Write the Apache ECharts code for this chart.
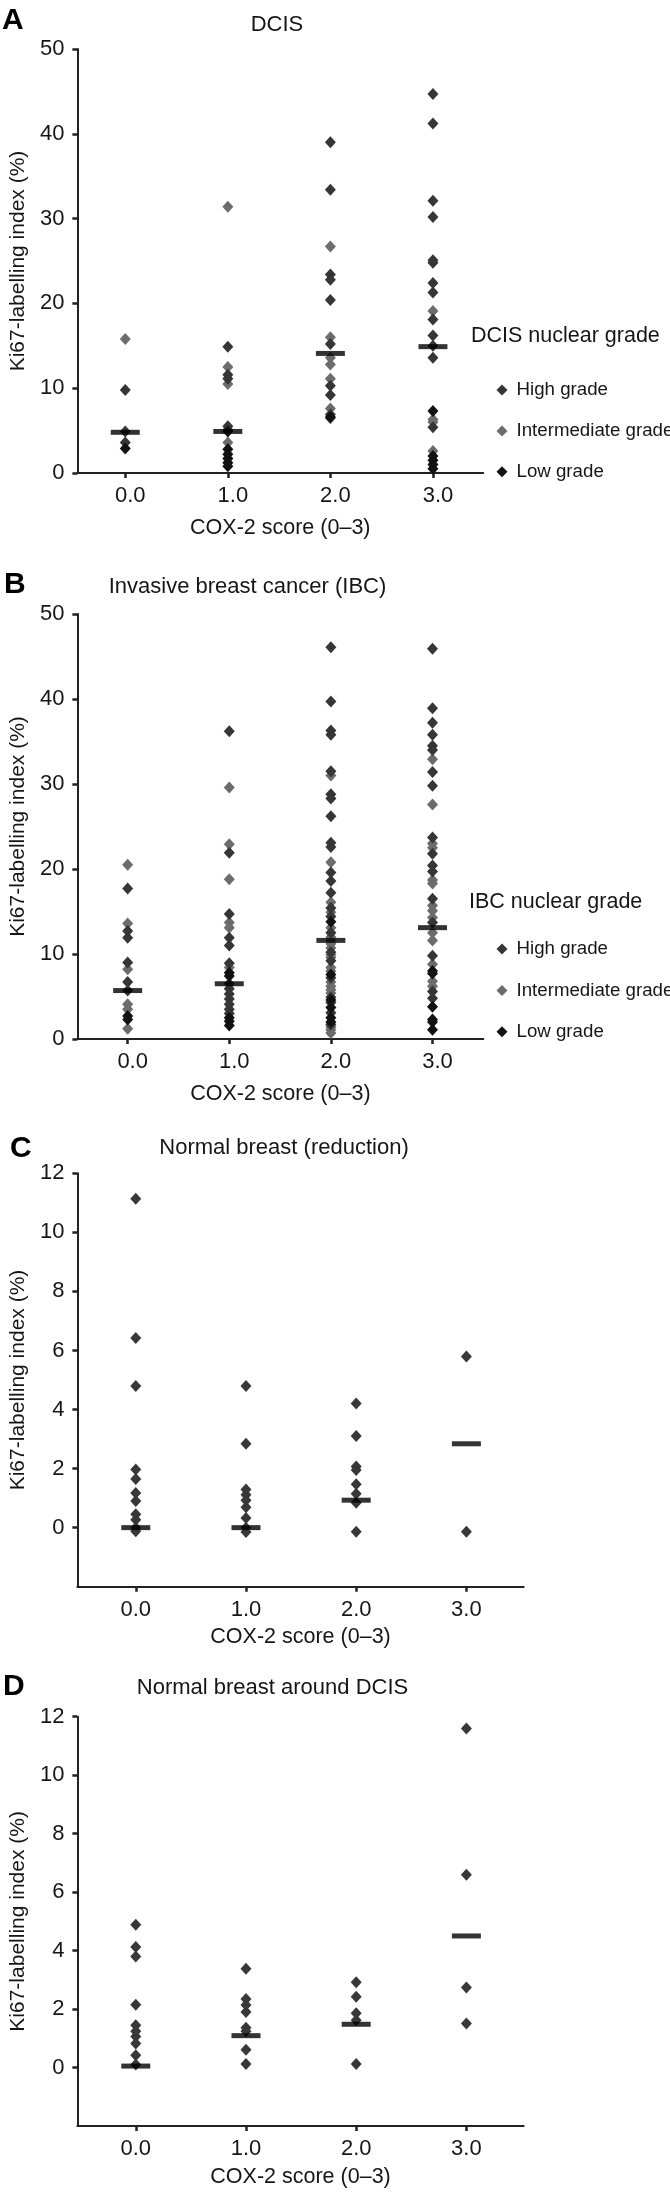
<!DOCTYPE html>
<html><head><meta charset="utf-8">
<script src="https://cdn.jsdelivr.net/npm/echarts@6/dist/echarts.min.js"></script>
<style>html,body{margin:0;padding:0;background:#fff}#c{width:670px;height:2192px}</style>
</head><body><div id="c"></div>
<script>
// ---- data ----
const scores = [0, 1, 2, 3];
const scoreLabels = ['0.0', '1.0', '2.0', '3.0'];
const gradeNames = ['High grade', 'Intermediate grade', 'Low grade'];
const yTicksAB = [0, 10, 20, 30, 40, 50];
const yTicksCD = [0, 2, 4, 6, 8, 10, 12];
const panelTitles = ['DCIS', 'Invasive breast cancer (IBC)', 'Normal breast (reduction)', 'Normal breast around DCIS'];
const panelLetters = ['A', 'B', 'C', 'D'];
const legendTitles = ['DCIS nuclear grade', 'IBC nuclear grade'];
const xTitle = 'COX-2 score (0\u20133)';
const yTitle = 'Ki67-labelling index (%)';

// Panel A: DCIS (values per COX-2 score 0..3)
const dcisHigh = [[9.8, 4.9, 3.6], [14.9, 11.6, 11.1, 5.5, 5.1], [39.0, 33.4, 23.4, 22.8, 20.4, 15.2, 10.3, 9.2, 6.9, 6.5], [44.7, 41.2, 32.1, 30.2, 25.1, 24.8, 22.4, 21.3, 18.1, 16.2, 15.0, 13.6, 5.4]];
const dcisInter = [[15.8], [31.4, 12.5, 10.5, 3.6], [26.7, 16.0, 13.6, 12.8, 11.1, 7.6], [19.1, 6.3, 6.0, 2.6]];
const dcisLow = [[2.9], [4.9, 2.8, 2.2, 1.7, 1.2, 0.8], [6.6], [7.3, 2.0, 1.5, 1.0, 0.5]];
const dcisMedian = [4.8, 4.9, 14.1, 14.9];

// Panel B: IBC
const ibcHigh = [[17.7, 12.7, 11.9, 9.0, 6.7, 5.7], [36.2, 21.9, 14.7, 11.9, 11.0, 8.9, 6.5, 5.9, 5.3, 4.7, 4.1, 3.5, 3.0], [46.1, 39.7, 36.3, 35.8, 31.5, 28.8, 28.3, 26.2, 23.1, 22.6, 19.6, 18.6, 17.2, 15.4, 14.4, 12.5, 10.2, 9.2, 7.2, 4.9, 4.3, 3.1, 1.7], [45.9, 38.9, 37.2, 35.8, 34.5, 34.0, 31.4, 29.8, 23.7, 21.8, 20.4, 19.7, 16.5, 13.7, 9.8, 5.6, 4.8]];
const ibcInter = [[20.5, 13.6, 8.2, 4.1, 3.5, 1.2], [29.6, 22.9, 18.8, 13.7, 13.1, 8.4], [31.0, 20.8, 16.1, 14.9, 13.1, 12.0, 11.6, 11.2, 10.7, 9.9, 9.6, 8.4, 8.0, 6.7, 6.2, 5.8, 5.4, 1.4, 1.1, 0.7], [32.9, 27.6, 23.0, 22.5, 18.7, 18.3, 15.7, 15.1, 14.3, 12.5, 11.6, 8.8, 6.8, 6.2]];
const ibcLow = [[2.7, 2.3], [7.8, 7.4, 2.5, 2.1, 1.6], [13.8, 7.6, 4.6, 3.7, 2.5, 2.0], [8.0, 7.7, 3.8, 2.3, 2.0, 1.1]];
const ibcMedian = [5.7, 6.5, 11.6, 13.1];

// Panel C: normal breast (reduction)
const normRed = [[11.14, 6.42, 4.8, 1.97, 1.65, 1.17, 0.9, 0.45, 0.27, 0, -0.12], [4.8, 2.84, 1.29, 1.11, 0.93, 0.69, 0.33, 0, -0.15], [4.2, 3.1, 2.07, 1.95, 1.47, 1.15, 0.84, -0.14], [5.8, -0.14]];
const normRedMedian = [0, 0, 0.93, 2.84];

// Panel D: normal breast around DCIS
const normDcis = [[4.88, 4.12, 3.8, 2.15, 1.45, 1.24, 1.06, 0.82, 0.42, 0.1], [3.38, 2.34, 2.14, 1.9, 1.36, 1.24, 0.61, 0.12], [2.92, 2.42, 1.86, 1.62, 0.12], [11.6, 6.59, 2.74, 1.51]];
const normDcisMedian = [0.05, 1.09, 1.48, 4.5];

// ---- styling ----
const FF = '"Liberation Sans", Arial, Helvetica, sans-serif';
const TXT = '#161616';
const AX = '#222';
const gradeColors = ['#363636', '#6c6c6c', '#121212'];
const plainColor = '#383838';
const DIAMOND = [11, 12];
const BAR = [29, 5];

function toPoints(arr) { return arr.flatMap((vals, i) => vals.map(v => [scores[i], v])); }
function medPoints(arr) { return arr.map((v, i) => [scores[i], v]); }

const grids = [
  { left: 71.7, top: 49, width: 411.5, height: 424 },
  { left: 71.7, top: 614, width: 411.6, height: 425 },
  { left: 72.7, top: 1173.3, width: 451, height: 413.4 },
  { left: 72.7, top: 1716.7, width: 451, height: 409.3 }
];
const xRanges = [[-0.467, 3.49], [-0.495, 3.5], [-0.53, 3.52], [-0.53, 3.52]];
const xLabelPad = [10, 10, 0, 0];
const xNameGap = [44, 44, 39, 40];

function xAxis(i) {
  return {
    type: 'value', gridIndex: i, min: xRanges[i][0], max: xRanges[i][1],
    axisLine: { onZero: false, lineStyle: { color: AX, width: 2 } },
    axisTick: { customValues: scores, length: 5, lineStyle: { color: AX, width: 2.5 } },
    axisLabel: { customValues: scores, formatter: v => scoreLabels[Math.round(v)], margin: 12, fontSize: 22, color: TXT, fontFamily: FF, padding: [0, 0, 0, xLabelPad[i]] },
    splitLine: { show: false },
    name: xTitle, nameLocation: 'middle', nameGap: xNameGap[i],
    nameTextStyle: { fontSize: 21.5, color: TXT, fontFamily: FF }
  };
}
function yAxis(i) {
  const ab = i < 2;
  const ticks = ab ? yTicksAB : yTicksCD;
  return {
    type: 'value', gridIndex: i, min: ab ? 0 : -2, max: ab ? 50 : 12,
    axisLine: { show: true, onZero: false, lineStyle: { color: AX, width: 2 } },
    axisTick: { show: true, customValues: ticks, length: 5, lineStyle: { color: AX, width: 2.5 } },
    axisLabel: { customValues: ticks, margin: 13, fontSize: 22, color: TXT, fontFamily: FF },
    splitLine: { show: false },
    name: yTitle, nameLocation: 'middle', nameGap: 36,
    nameTextStyle: { fontSize: 21, color: TXT, fontFamily: FF }
  };
}

function scatter(name, data, i, color, z) {
  return { type: 'scatter', name, xAxisIndex: i, yAxisIndex: i, data: toPoints(data), symbol: 'diamond', symbolSize: DIAMOND, itemStyle: { color, opacity: 1 }, z: z || 2, silent: true, animation: false };
}
function median(name, data, i) {
  return { type: 'scatter', name, xAxisIndex: i, yAxisIndex: i, data: medPoints(data), symbol: 'rect', symbolSize: BAR, itemStyle: { color: '#000' }, z: 10, silent: true, animation: false };
}

const series = [
  scatter(gradeNames[0], dcisHigh, 0, gradeColors[0], 3),
  scatter(gradeNames[1], dcisInter, 0, gradeColors[1], 2),
  scatter(gradeNames[2], dcisLow, 0, gradeColors[2], 4),
  median('DCIS median', dcisMedian, 0),
  scatter(gradeNames[0], ibcHigh, 1, gradeColors[0], 3),
  scatter(gradeNames[1], ibcInter, 1, gradeColors[1], 2),
  scatter(gradeNames[2], ibcLow, 1, gradeColors[2], 4),
  median('IBC median', ibcMedian, 1),
  scatter('Normal (reduction)', normRed, 2, plainColor, 3),
  median('Normal (reduction) median', normRedMedian, 2),
  scatter('Normal around DCIS', normDcis, 3, plainColor, 3),
  median('Normal around DCIS median', normDcisMedian, 3)
];

function legend(top, gap) {
  return {
    orient: 'vertical', left: 491.5, top, itemGap: gap, itemWidth: 11, itemHeight: 11,
    icon: 'diamond', selectedMode: false,
    data: gradeNames,
    textStyle: { fontSize: 18.7, color: TXT, fontFamily: FF, padding: [0, 0, 0, 4] }
  };
}

const titlePos = [[277, 25], [247.5, 587], [284, 1148], [272.5, 1688]];
const letterPos = [[2, 21], [4, 585], [10, 1149], [3, 1687]];
const legendTitlePos = [[471, 336], [469, 902]];

const graphic = [];
panelTitles.forEach((t, i) => graphic.push({ type: 'text', x: titlePos[i][0], y: titlePos[i][1], silent: true,
  style: { text: t, font: '22px ' + FF, fill: TXT, align: 'center', verticalAlign: 'middle' } }));
panelLetters.forEach((t, i) => graphic.push({ type: 'text', x: letterPos[i][0], y: letterPos[i][1], silent: true,
  style: { text: t, font: 'bold 30px ' + FF, fill: '#000', align: 'left', verticalAlign: 'middle' } }));
legendTitles.forEach((t, i) => graphic.push({ type: 'text', x: legendTitlePos[i][0], y: legendTitlePos[i][1], silent: true,
  style: { text: t, font: '21.5px ' + FF, fill: TXT, align: 'left', verticalAlign: 'middle' } }));

const chart = echarts.init(document.getElementById('c'), null, { renderer: 'canvas' });
chart.setOption({
  backgroundColor: '#fff',
  animation: false,
  grid: grids,
  xAxis: [0, 1, 2, 3].map(xAxis),
  yAxis: [0, 1, 2, 3].map(yAxis),
  legend: [legend(375.6, 21.8), legend(934.6, 22.3)],
  series,
  graphic
});
</script></body></html>
